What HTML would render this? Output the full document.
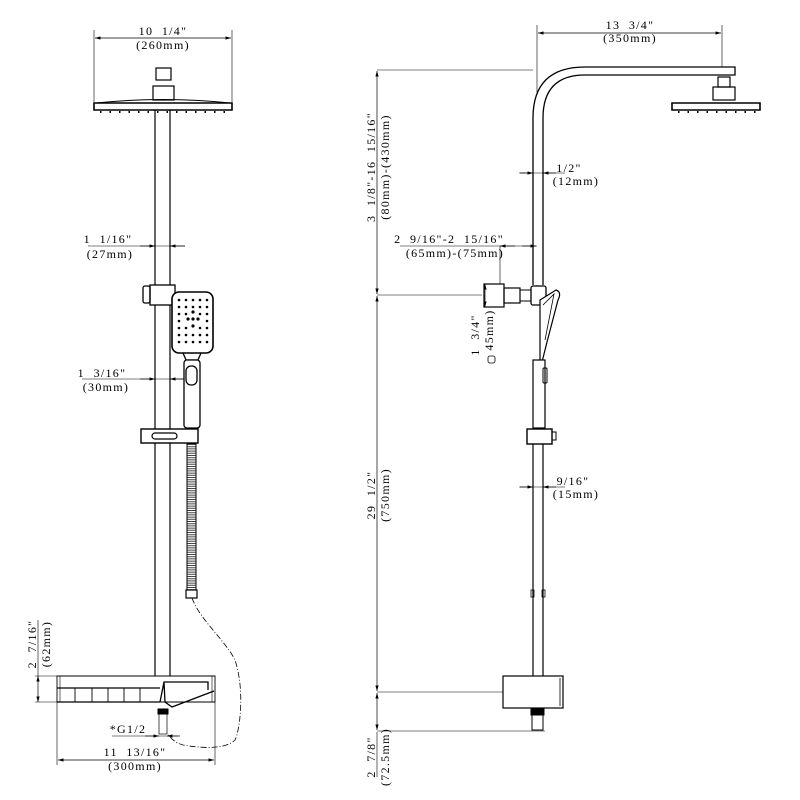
<!DOCTYPE html>
<html><head><meta charset="utf-8"><style>
html,body{margin:0;padding:0;background:#fff}
svg{display:block}
text{font-family:"Liberation Serif",serif;font-size:12px;letter-spacing:1.3px;fill:#000;white-space:pre}
</style></head><body>
<svg width="800" height="800" viewBox="0 0 800 800" xmlns="http://www.w3.org/2000/svg">
<defs>
<marker id="a" viewBox="0 0 10 6" refX="10" refY="3" markerWidth="8" markerHeight="5" orient="auto-start-reverse"><path d="M0,0L10,3L0,6z" fill="#000"/></marker>
</defs>
<g stroke="#000" fill="none" stroke-width="1">
<!-- LEFT VIEW -->
<line x1="94" y1="30" x2="94" y2="102" stroke-width="0.6"/>
<line x1="232" y1="30" x2="232" y2="102" stroke-width="0.6"/>
<line x1="95" y1="38" x2="231" y2="38" marker-start="url(#a)" marker-end="url(#a)" stroke-width="0.7"/>
<rect x="156" y="68" width="15" height="12" stroke-width="1.2"/>
<rect x="153" y="86" width="21" height="14" stroke-width="1.2"/>
<path d="M94,103 L232,103 L232,110 L94,110z" stroke-width="1.6"/>
<path d="M96,103 Q163,96 230,103" stroke-width="1"/>
<line x1="100" y1="112" x2="226" y2="112" stroke-dasharray="1.5 8" stroke-width="2"/>
<line x1="155" y1="110" x2="155" y2="676" stroke-width="1.2"/>
<line x1="170" y1="110" x2="170" y2="676" stroke-width="1.2"/>
<line x1="88" y1="246" x2="185" y2="246" stroke-width="0.6"/>
<line x1="140" y1="246" x2="155" y2="246" marker-end="url(#a)" stroke-width="0.7"/>
<line x1="185" y1="246" x2="170" y2="246" marker-end="url(#a)" stroke-width="0.7"/>
<rect x="150" y="285" width="25" height="20" stroke-width="1.3" fill="#fff"/>
<rect x="143" y="286" width="7" height="17" rx="2" stroke-width="1.3"/>
<rect x="172" y="292" width="41" height="61" rx="7" stroke-width="1.6" fill="#fff"/>
<path d="M183,353 L186,360 L198,360 L201,353" stroke-width="1.3"/>
<rect x="184" y="360" width="16" height="68" rx="3" stroke-width="1.3" fill="#fff"/>
<rect x="186" y="366" width="11" height="19" rx="5" stroke-width="1.3"/>
<line x1="82" y1="379" x2="184" y2="379" stroke-width="0.6"/>
<line x1="140" y1="379" x2="155" y2="379" marker-end="url(#a)" stroke-width="0.7"/>
<line x1="184" y1="379" x2="170" y2="379" marker-end="url(#a)" stroke-width="0.7"/>
<rect x="141" y="429" width="57" height="14" stroke-width="1.4" fill="#fff"/>
<rect x="152" y="433" width="25" height="6" rx="3" stroke-width="1.2"/>
<rect x="187" y="444" width="9" height="146" stroke-width="1"/>
<line x1="191.5" y1="444" x2="191.5" y2="590" stroke-width="8" stroke-dasharray="1 1.2" stroke="#444"/>
<rect x="186" y="590" width="11" height="8" stroke-width="1.2"/>
<path d="M192,598 C200,620 225,640 235,660 C245,690 240,730 235,740 C225,750 200,748 183,745 C176,743 172,740 167,733" stroke-dasharray="6 2 1 2" stroke-width="0.8"/>
<path d="M57,676 L215,676 L215,702 L57,702z" stroke-width="0.9"/>
<line x1="60" y1="676" x2="60" y2="702" stroke-width="0.6"/>
<line x1="212" y1="676" x2="212" y2="702" stroke-width="0.6"/>
<path d="M57,688 L160,688 M57,702 L160,702" stroke-width="1.2"/>
<path d="M75,688V702M92,688V702M108,688V702M124,688V702M140,688V702" stroke-width="0.9"/>
<path d="M160,702 L164,682 L208,682 L208,690 M164,682 L165,702 L172,707 L214,691" stroke-width="1.3"/>
<rect x="158" y="709" width="10" height="5" fill="#000"/>
<rect x="159" y="714" width="8" height="20" stroke-width="0.7"/>
<line x1="38" y1="676" x2="38" y2="702" marker-start="url(#a)" marker-end="url(#a)" stroke-width="0.7"/>
<line x1="35" y1="676" x2="57" y2="676" stroke-width="0.6"/>
<line x1="35" y1="702" x2="57" y2="702" stroke-width="0.6"/>
<line x1="38" y1="620" x2="38" y2="676" stroke-width="0.6"/>
<line x1="57" y1="702" x2="57" y2="765" stroke-width="0.6"/>
<line x1="215" y1="702" x2="215" y2="765" stroke-width="0.6"/>
<line x1="58" y1="760" x2="214" y2="760" marker-start="url(#a)" marker-end="url(#a)" stroke-width="0.7"/>
<line x1="112" y1="736" x2="178" y2="736" stroke-width="0.6"/>
<line x1="145" y1="736" x2="159" y2="736" marker-end="url(#a)" stroke-width="0.7"/>
<line x1="180" y1="736" x2="167" y2="736" marker-end="url(#a)" stroke-width="0.7"/>

<!-- RIGHT VIEW -->
<line x1="537" y1="25" x2="537" y2="300" stroke-width="0.6"/>
<line x1="722" y1="25" x2="722" y2="67" stroke-width="0.6"/>
<line x1="538" y1="33" x2="721" y2="33" marker-start="url(#a)" marker-end="url(#a)" stroke-width="0.7"/>
<line x1="377" y1="70" x2="533" y2="70" stroke-width="0.6"/>
<path d="M533,285 L533,118 Q533,67 585,67 L735,67 L735,75 L585,75 Q543,75 543,118 L543,285" stroke-width="1.3" fill="#fff"/>
<rect x="718" y="77" width="12" height="10" stroke-width="1.2"/>
<rect x="713" y="87" width="22" height="13" stroke-width="1.2"/>
<path d="M672,103 L760,103 L760,110 L672,110z" stroke-width="1.6"/>
<line x1="678" y1="112" x2="758" y2="112" stroke-dasharray="1.5 8" stroke-width="2"/>
<line x1="519" y1="173" x2="565" y2="173" stroke-width="0.6"/>
<line x1="520" y1="173" x2="533" y2="173" marker-end="url(#a)" stroke-width="0.7"/>
<line x1="556" y1="173" x2="543" y2="173" marker-end="url(#a)" stroke-width="0.7"/>
<line x1="400" y1="246" x2="537" y2="246" stroke-width="0.6"/>
<line x1="515" y1="246" x2="500" y2="246" marker-end="url(#a)" stroke-width="0.7"/>
<line x1="522" y1="246" x2="536" y2="246" marker-end="url(#a)" stroke-width="0.7"/>
<line x1="500" y1="246" x2="500" y2="285" stroke-width="0.6"/>
<line x1="377" y1="71" x2="377" y2="294" marker-start="url(#a)" marker-end="url(#a)" stroke-width="0.7"/>
<line x1="377" y1="296" x2="377" y2="691" marker-start="url(#a)" marker-end="url(#a)" stroke-width="0.7"/>
<line x1="377" y1="693" x2="377" y2="730" marker-start="url(#a)" marker-end="url(#a)" stroke-width="0.7"/>
<line x1="377" y1="732" x2="377" y2="777" stroke-width="0.6"/>
<line x1="377" y1="295" x2="482" y2="295" stroke-width="0.6"/>
<line x1="377" y1="692" x2="503" y2="692" stroke-width="0.6"/>
<line x1="377" y1="731" x2="545" y2="731" stroke-width="0.6"/>
<rect x="484" y="284" width="20" height="23" stroke-width="1.2" fill="#fff"/>
<rect x="504" y="288" width="16" height="15" stroke-width="1.2"/>
<rect x="520" y="290" width="12" height="11" stroke-width="1"/>
<rect x="531" y="286" width="15" height="19" rx="2" stroke-width="1.3" fill="#fff"/>
<line x1="485" y1="284" x2="485" y2="307" marker-start="url(#a)" marker-end="url(#a)" stroke-width="0.7"/>
<rect x="488" y="356" width="7" height="7" rx="2" stroke-width="0.8"/>
<path d="M540,300 L556,290 Q562,292 558,300 L547,342 L540,370 Z" stroke-width="1.2" fill="#fff"/>
<path d="M543,305 L554,294 L545,340" stroke-width="0.8"/>
<rect x="533" y="360" width="12" height="68" stroke-width="1.2" fill="#fff"/>
<rect x="543" y="368" width="4" height="15" rx="1" stroke-width="1"/>
<rect x="527" y="429" width="25" height="15" stroke-width="1.4" fill="#fff"/>
<rect x="552" y="432" width="4" height="8" stroke-width="1"/>
<line x1="533" y1="444" x2="533" y2="676" stroke-width="1.2"/>
<line x1="543" y1="444" x2="543" y2="676" stroke-width="1.2"/>
<rect x="531" y="590" width="3" height="7" stroke-width="0.8"/>
<rect x="542" y="590" width="3" height="7" stroke-width="0.8"/>
<line x1="519" y1="487" x2="565" y2="487" stroke-width="0.6"/>
<line x1="520" y1="487" x2="533" y2="487" marker-end="url(#a)" stroke-width="0.7"/>
<line x1="556" y1="487" x2="543" y2="487" marker-end="url(#a)" stroke-width="0.7"/>
<rect x="503" y="676" width="60" height="32" stroke-width="1.2" fill="#fff"/>
<line x1="560" y1="678" x2="560" y2="706" stroke-width="0.8"/>
<rect x="531" y="709" width="13" height="6" fill="#000"/>
<rect x="532" y="715" width="11" height="15" stroke-width="1"/>
</g>
<g>
<text x="163" y="35" text-anchor="middle">10  1/4"</text>
<text x="163" y="49" text-anchor="middle">(260mm)</text>
<text x="108" y="243" text-anchor="middle">1  1/16"</text>
<text x="110" y="258" text-anchor="middle">(27mm)</text>
<text x="102" y="377" text-anchor="middle">1  3/16"</text>
<text x="106" y="391" text-anchor="middle">(30mm)</text>
<text x="128" y="733" text-anchor="middle">*G1/2</text>
<text x="135" y="756" text-anchor="middle">11  13/16"</text>
<text x="135" y="770" text-anchor="middle">(300mm)</text>
<text transform="translate(36,644) rotate(-90)" text-anchor="middle">2  7/16"</text>
<text transform="translate(50,644) rotate(-90)" text-anchor="middle">(62mm)</text>
<text x="630" y="29" text-anchor="middle">13  3/4"</text>
<text x="630" y="42" text-anchor="middle">(350mm)</text>
<text x="569" y="172" text-anchor="middle">1/2"</text>
<text x="576" y="185" text-anchor="middle">(12mm)</text>
<text x="449" y="243" text-anchor="middle">2  9/16"-2  15/16"</text>
<text x="455" y="257" text-anchor="middle">(65mm)-(75mm)</text>
<text transform="translate(375,167) rotate(-90)" text-anchor="middle">3  1/8"-16  15/16"</text>
<text transform="translate(389,167) rotate(-90)" text-anchor="middle">(80mm)-(430mm)</text>
<text transform="translate(375,495) rotate(-90)" text-anchor="middle">29  1/2"</text>
<text transform="translate(389,495) rotate(-90)" text-anchor="middle">(750mm)</text>
<text transform="translate(375,757) rotate(-90)" text-anchor="middle">2  7/8"</text>
<text transform="translate(389,757) rotate(-90)" text-anchor="middle">(72.5mm)</text>
<text transform="translate(479,335) rotate(-90)" text-anchor="middle">1  3/4"</text>
<text transform="translate(493,330) rotate(-90)" text-anchor="middle">45mm)</text>
<text x="573" y="485" text-anchor="middle">9/16"</text>
<text x="576" y="498" text-anchor="middle">(15mm)</text>
</g>
<g fill="#000">
<circle cx="179" cy="300" r="1.3"/><circle cx="186" cy="300" r="1.3"/><circle cx="193" cy="300" r="1.3"/><circle cx="200" cy="300" r="1.3"/><circle cx="207" cy="300" r="1.3"/>
<circle cx="179" cy="307" r="1.3"/><circle cx="186" cy="307" r="1.3"/><circle cx="193" cy="307" r="1.3"/><circle cx="200" cy="307" r="1.3"/><circle cx="207" cy="307" r="1.3"/>
<circle cx="179" cy="314" r="1.3"/><circle cx="186" cy="314" r="1.3"/><circle cx="193" cy="312" r="1.6"/><circle cx="200" cy="314" r="1.3"/><circle cx="207" cy="314" r="1.3"/>
<circle cx="179" cy="321" r="1.3"/><circle cx="188" cy="319" r="1.6"/><circle cx="193" cy="319" r="1.6"/><circle cx="198" cy="319" r="1.6"/><circle cx="207" cy="321" r="1.3"/>
<circle cx="179" cy="328" r="1.3"/><circle cx="186" cy="328" r="1.3"/><circle cx="193" cy="326" r="1.6"/><circle cx="200" cy="328" r="1.3"/><circle cx="207" cy="328" r="1.3"/>
<circle cx="179" cy="335" r="1.3"/><circle cx="186" cy="335" r="1.3"/><circle cx="193" cy="335" r="1.3"/><circle cx="200" cy="335" r="1.3"/><circle cx="207" cy="335" r="1.3"/>
<circle cx="179" cy="342" r="1.3"/><circle cx="186" cy="342" r="1.3"/><circle cx="193" cy="342" r="1.3"/><circle cx="200" cy="342" r="1.3"/><circle cx="207" cy="342" r="1.3"/>
</g>
</svg>
</body></html>
